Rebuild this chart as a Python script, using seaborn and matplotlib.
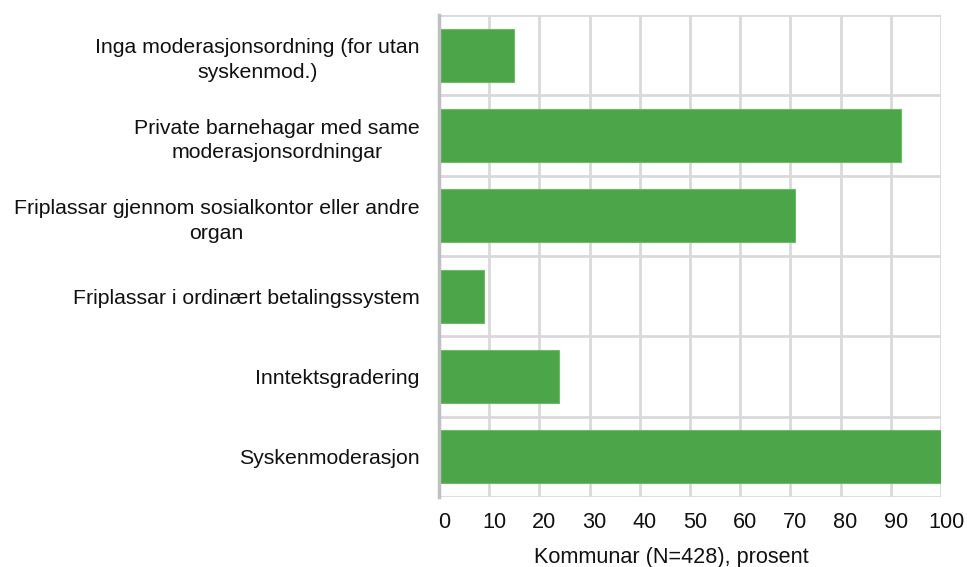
import matplotlib
matplotlib.use("Agg")
import matplotlib.pyplot as plt
import matplotlib.transforms as mtransforms
import seaborn as sns
import pandas as pd
import numpy as np

categories = [
    "Inga moderasjonsordning (for utan\nsyskenmod.)",
    "Private barnehagar med same\nmoderasjonsordningar",
    "Friplassar gjennom sosialkontor eller andre\norgan",
    "Friplassar i ordinært betalingssystem",
    "Inntektsgradering",
    "Syskenmoderasjon",
]
values = [15, 92, 71, 9, 24, 100]
xticks = [0, 10, 20, 30, 40, 50, 60, 70, 80, 90, 100]
xlabel = "Kommunar (N=428), prosent"

sns.set_theme(style="white")
plt.rcParams['font.family'] = ['Liberation Sans', 'DejaVu Sans']

df = pd.DataFrame({"cat": categories, "val": values})

fig = plt.figure(figsize=(9.67, 5.67), dpi=100)
ax = fig.add_axes([439/967, 1 - 497/567, (941 - 439)/967, (497 - 15)/567])

sns.barplot(data=df, x="val", y="cat", orient="h", color="#4DA54A", saturation=1,
            width=0.66, edgecolor="#6DBB69", linewidth=0.8, ax=ax, zorder=3)

ax.set_xlim(0, 100)
ax.set_ylim(len(categories) - 0.5, -0.5)
ax.set_xticks(xticks)
ax.set_xticklabels([str(t) for t in xticks], fontsize=15.6)
ax.set_yticks(range(len(categories)))
ax.set_yticklabels(categories, fontsize=15.3, multialignment="center", linespacing=1.38)
ax.set_yticks(np.arange(-0.5, len(categories), 1), minor=True)
ax.tick_params(axis="both", which="both", length=0)
ax.tick_params(axis="y", pad=14)
ax.tick_params(axis="x", pad=11)

offset = mtransforms.ScaledTranslation(5/100, 0, fig.dpi_scale_trans)
for lbl in ax.get_xticklabels():
    lbl.set_transform(lbl.get_transform() + offset)

ax.grid(axis="x", which="major", color="#D9D9D9", linewidth=2, zorder=0)
ax.grid(axis="y", which="minor", color="#D9D9D9", linewidth=2, zorder=0)
ax.grid(axis="y", which="major", visible=False)
ax.set_axisbelow(True)

for s in ["top", "right", "bottom"]:
    ax.spines[s].set_visible(False)
ax.spines["left"].set_color("#BFBFC4")
ax.spines["left"].set_linewidth(2.5)
ax.spines["left"].set_zorder(4)

ax.set_xlabel(xlabel, fontsize=15.6, color="#111111")
ax.xaxis.set_label_coords(0.462, -0.103)
ax.set_ylabel("")
for lbl in ax.get_xticklabels() + ax.get_yticklabels():
    lbl.set_color("#111111")

fig.savefig("out.png", dpi=100, facecolor="white")
